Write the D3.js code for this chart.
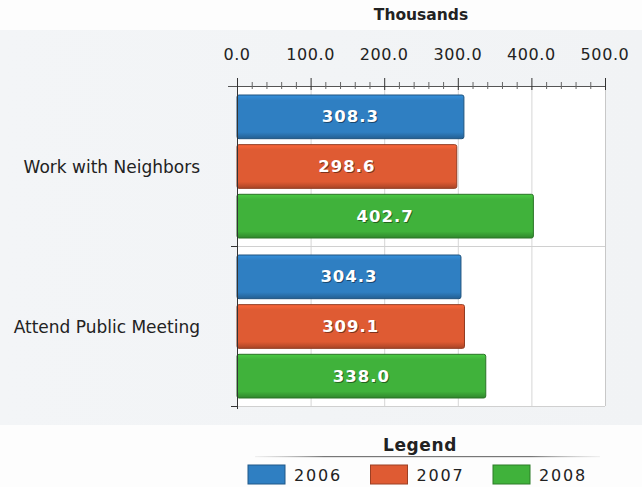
<!DOCTYPE html>
<html><head><meta charset="utf-8">
<script src="https://cdn.jsdelivr.net/npm/d3@7"></script>
<style>
html,body{margin:0;padding:0;background:#fff;}
svg{display:block;}
</style></head>
<body><svg id="chart" width="642" height="487"></svg>
<script>
const categories = ["Work with Neighbors", "Attend Public Meeting"];
const years = ["2006", "2007", "2008"];
const values2006 = [308.3, 304.3];
const values2007 = [298.6, 309.1];
const values2008 = [402.7, 338.0];
const tickValues = [0, 100, 200, 300, 400, 500];
const colors = ["#2f7fc2", "#df5b33", "#40b23b"];
const axisTitle = "Thousands";
const legendTitle = "Legend";

const seriesValues = [values2006, values2007, values2008];
const data = [];
categories.forEach((c, ci) => years.forEach((y, yi) => data.push({cat: c, year: y, yi, value: seriesValues[yi][ci]})));

const svg = d3.select("#chart");
const defs = svg.append("defs");

// background
const bg = defs.append("linearGradient").attr("id","bg").attr("x1",0).attr("x2",1).attr("y1",0).attr("y2",0);
bg.append("stop").attr("offset","0%").attr("stop-color","#f3f5f7");
bg.append("stop").attr("offset","100%").attr("stop-color","#f1f3f5");
svg.append("rect").attr("x",0).attr("y",0).attr("width",642).attr("height",487).attr("fill","#fdfdfd");
svg.append("rect").attr("x",0).attr("y",30).attr("width",642).attr("height",395).attr("fill","url(#bg)");

const x = d3.scaleLinear().domain([0, 500]).range([237, 605]);
const y = d3.scaleBand().domain(categories).range([86, 406]);
const yInner = d3.scaleBand().domain(years).range([9, y.bandwidth() - 8]).paddingInner(0.12);

// plot area
svg.append("rect").attr("x", x(0)).attr("y", y.range()[0]).attr("width", x(500)-x(0)).attr("height", y.range()[1]-y.range()[0]).attr("fill","#fff");

// grid
svg.append("g").selectAll("line").data(tickValues.slice(1)).join("line")
  .attr("x1", d => x(d)+0.5).attr("x2", d => x(d)+0.5)
  .attr("y1", y.range()[0]).attr("y2", y.range()[1])
  .attr("stroke", d => d === 500 ? "#c8c8c8" : "#d6d6d6").attr("stroke-width", 1);
svg.append("g").selectAll("line").data(categories).join("line")
  .attr("x1", x(0)).attr("x2", x(500))
  .attr("y1", d => y(d)+y.bandwidth()+0.5).attr("y2", d => y(d)+y.bandwidth()+0.5)
  .attr("stroke","#d0d0d0");

// bar gradients
colors.forEach((c, i) => {
  const g = defs.append("linearGradient").attr("id","g"+i).attr("x1",0).attr("x2",0).attr("y1",0).attr("y2",1);
  const cc = d3.color(c);
  g.append("stop").attr("offset","0%").attr("stop-color", cc.brighter(0.35));
  g.append("stop").attr("offset","12%").attr("stop-color", c);
  g.append("stop").attr("offset","85%").attr("stop-color", c);
  g.append("stop").attr("offset","100%").attr("stop-color", cc.darker(0.8));
});

const bars = svg.append("g").selectAll("g").data(data).join("g")
  .attr("transform", d => `translate(0,${y(d.cat) + yInner(d.year)})`);
bars.append("rect")
  .attr("x", x(0)).attr("y", 0)
  .attr("width", d => x(d.value) - x(0)).attr("height", yInner.bandwidth())
  .attr("rx", 2)
  .attr("fill", d => `url(#g${d.yi})`)
  .attr("stroke", d => d3.color(colors[d.yi]).darker(1.2)).attr("stroke-width", 1);
const labelFont = {family: "DejaVu Sans, Verdana, sans-serif", size: 16.5};
bars.append("text")
  .attr("x", d => (x(0) + x(d.value))/2 + 1).attr("y", yInner.bandwidth()/2 + 1)
  .attr("text-anchor","middle").attr("dominant-baseline","central")
  .attr("font-family",labelFont.family).attr("font-weight","bold").attr("font-size",labelFont.size).attr("letter-spacing",1)
  .attr("fill","rgba(0,0,0,0.45)")
  .text(d => d.value.toFixed(1));
bars.append("text")
  .attr("x", d => (x(0) + x(d.value))/2).attr("y", yInner.bandwidth()/2)
  .attr("text-anchor","middle").attr("dominant-baseline","central")
  .attr("font-family",labelFont.family).attr("font-weight","bold").attr("font-size",labelFont.size).attr("letter-spacing",1)
  .attr("fill","#fff")
  .text(d => d.value.toFixed(1));

// top axis: minor ticks
const axisY = 86;
svg.append("line").attr("x1", x(0)-9).attr("x2", x(500)).attr("y1", axisY+0.5).attr("y2", axisY+0.5).attr("stroke","#555");
svg.append("g").selectAll("line").data(d3.range(0, 501, 20)).join("line")
  .attr("x1", d => x(d)+0.5).attr("x2", d => x(d)+0.5)
  .attr("y1", d => d % 100 === 0 ? axisY-8 : axisY-4).attr("y2", d => d % 100 === 0 ? axisY+4 : axisY+3)
  .attr("stroke", d => d % 100 === 0 ? "#333" : "#666");
svg.append("g").selectAll("text").data(tickValues).join("text")
  .attr("x", d => x(d)).attr("y", 60)
  .attr("text-anchor","middle")
  .attr("font-family","DejaVu Sans, Verdana, sans-serif").attr("font-size",16).attr("letter-spacing",0.6)
  .attr("fill","#222")
  .text(d => d.toFixed(1));
svg.append("text").attr("x", (x(0)+x(500))/2).attr("y", 20).attr("text-anchor","middle")
  .attr("font-family","DejaVu Sans, Verdana, sans-serif").attr("font-weight","bold").attr("font-size",15.5)
  .attr("fill","#222").text(axisTitle);

// left axis
svg.append("line").attr("x1", x(0)+0.5).attr("x2", x(0)+0.5).attr("y1", axisY).attr("y2", y.range()[1]+3).attr("stroke","#333");
svg.append("g").selectAll("line").data(categories).join("line")
  .attr("x1", x(0)-6).attr("x2", x(0))
  .attr("y1", d => y(d)+y.bandwidth()+0.5).attr("y2", d => y(d)+y.bandwidth()+0.5)
  .attr("stroke","#333");
svg.append("g").selectAll("text").data(categories).join("text")
  .attr("x", 200).attr("y", d => y(d) + y.bandwidth()/2 + 1)
  .attr("text-anchor","end").attr("dominant-baseline","central")
  .attr("font-family","DejaVu Sans, Verdana, sans-serif").attr("font-size",17).attr("letter-spacing",0)
  .attr("fill","#222").text(d => d);

// legend
svg.append("text").attr("x", 420).attr("y", 451).attr("text-anchor","middle")
  .attr("font-family","DejaVu Sans, Verdana, sans-serif").attr("font-weight","bold").attr("font-size",17).attr("letter-spacing",0.6)
  .attr("fill","#222").text(legendTitle);
const lg = defs.append("linearGradient").attr("id","lg").attr("x1",0).attr("x2",1);
lg.append("stop").attr("offset","0%").attr("stop-color","#bbb").attr("stop-opacity",0.2);
lg.append("stop").attr("offset","20%").attr("stop-color","#777");
lg.append("stop").attr("offset","80%").attr("stop-color","#777");
lg.append("stop").attr("offset","100%").attr("stop-color","#bbb").attr("stop-opacity",0.2);
svg.append("rect").attr("x", 255).attr("y", 456).attr("width", 345).attr("height", 1.2).attr("fill","url(#lg)");
const legendX = d3.scalePoint().domain(years).range([248, 493]);
const li = svg.append("g").selectAll("g").data(years).join("g")
  .attr("transform", d => `translate(${legendX(d)},465)`);
li.append("rect").attr("width",37).attr("height",19)
  .attr("fill",(d,i)=>colors[i]).attr("stroke",(d,i)=>d3.color(colors[i]).darker(1));
li.append("text").attr("x",46).attr("y",10).attr("dominant-baseline","central")
  .attr("font-family","DejaVu Sans, Verdana, sans-serif").attr("font-size",16).attr("letter-spacing",1.8)
  .attr("fill","#222").text(d => d);
</script></body></html>
